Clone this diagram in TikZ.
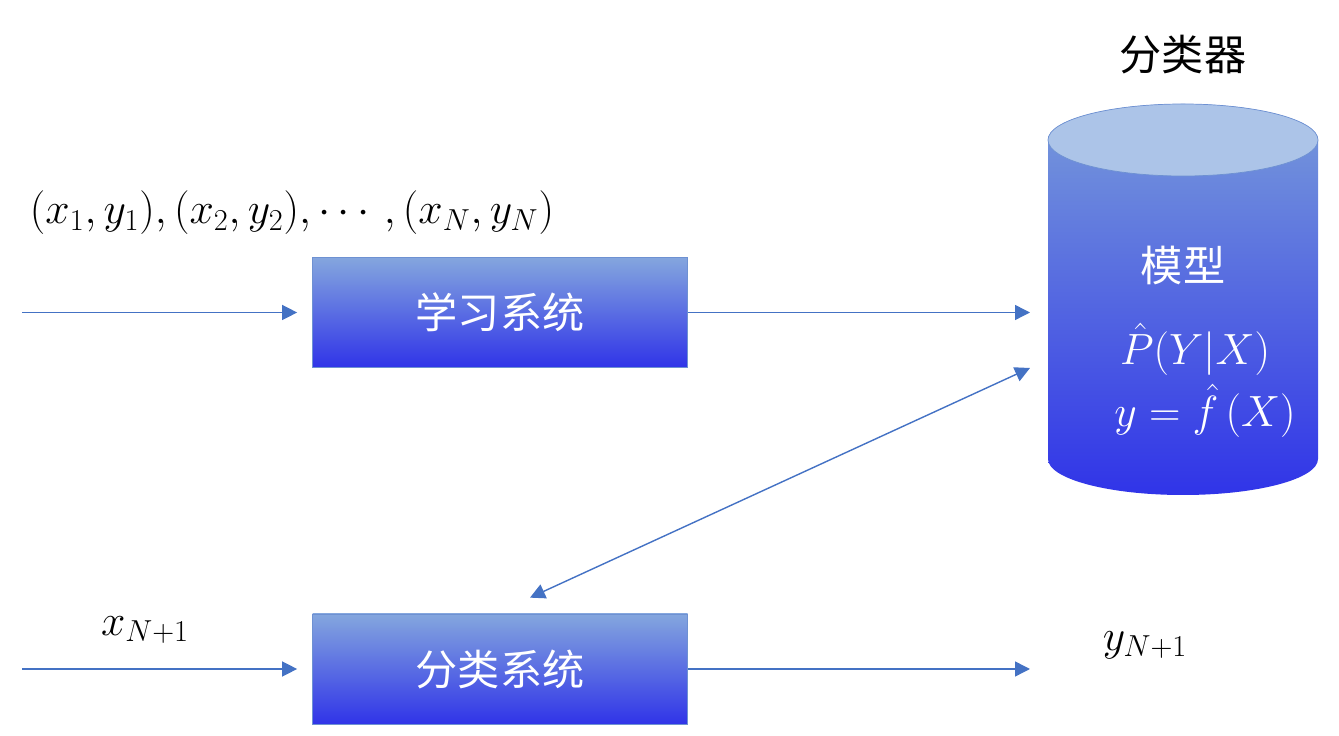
\documentclass[tikz,border=0pt]{standalone}
\usepackage{fontspec}
\newfontfamily\cjk{Noto Sans CJK SC}
\usepackage{amsmath}
\usetikzlibrary{arrows.meta,positioning,calc}
\definecolor{azulSeta}{RGB}{68,114,196}
\definecolor{azulBorda}{RGB}{110,145,210}
\definecolor{azulTopo}{RGB}{132,166,222}
\definecolor{azulFundo}{RGB}{48,52,232}
\definecolor{cilTopo}{RGB}{120,155,218}
\definecolor{tampa}{RGB}{172,196,232}
\tikzset{
  sistema/.style={rectangle, draw=azulBorda, thin, top color=azulTopo,
                  bottom color=azulFundo, minimum width=7.5cm, minimum height=2.2cm,
                  text=white, font=\cjk\fontsize{24}{28}\selectfont},
  seta/.style={-{Triangle[length=3mm,width=3mm]}, azulSeta, line width=0.8pt},
  setadupla/.style={{Triangle[length=3mm,width=3mm]}-{Triangle[length=3mm,width=3mm]},
                    azulSeta, line width=0.8pt},
  rotulo/.style={font=\fontsize{24}{28}\selectfont},
  rotulocil/.style={text=white, inner sep=0pt, font=\fontsize{23}{26}\selectfont},
}
\begin{document}
\begin{tikzpicture}
  \useasboundingbox (0,0) rectangle (26.78,14.72);

  % cilindro do classificador
  \shade[top color=cilTopo, bottom color=azulFundo]
    (20.96,11.92) -- (20.96,5.54)
    arc[start angle=180, end angle=360, x radius=2.7, y radius=0.72]
    -- (26.36,11.92)
    arc[start angle=0, end angle=180, x radius=2.7, y radius=0.72] -- cycle;
  \draw[azulBorda, thin, fill=tampa] (23.66,11.92) ellipse [x radius=2.7, y radius=0.72];
  \coordinate (modelo) at (20.96,8.38);

  \node[font=\cjk\fontsize{24}{28}\selectfont] (classif) at (23.66,13.62) {分类器};
  \node[rotulocil, font=\cjk\fontsize{24}{28}\selectfont] (nomemod) at (23.66,9.42) {模型};
  \node[rotulocil] (prob) at (23.9,7.74) {$\hat{P}(Y|X)$};
  \node[rotulocil] (func) at (24.1,6.5) {$y=\hat{f}\,(X)$};

  % sistemas
  \node[sistema] (aprend) at (10,8.47) {学习系统};
  \node[sistema] (classsis) at (10,1.34) {分类系统};

  \coordinate (ent1) at (0.44,8.47);
  \coordinate (ent2) at (0.44,1.34);
  \coordinate (said) at (20.6,1.34);
  \coordinate (d1) at ($(classsis.north)+(0.6,0.32)$);
  \coordinate (d2) at (20.6,7.36);

  \draw[seta, shorten >=0.3cm] (ent1) -- (aprend.west);
  \draw[seta, shorten >=0.3cm] (ent2) -- (classsis.west);
  \draw[seta, shorten >=0.36cm] (aprend.east) -- (modelo |- aprend.east);
  \draw[seta] (classsis.east) -- (said);
  \draw[setadupla] (d1) -- (d2);

  \node[rotulo] (dados) at (5.84,10.46) {$(x_1,y_1),(x_2,y_2),\cdots,(x_N,y_N)$};
  \node[rotulo] (xnovo) at (2.9,2.12) {$x_{N+1}$};
  \node[rotulo] (ynovo) at (22.9,1.82) {$y_{N+1}$};
\end{tikzpicture}
\end{document}
